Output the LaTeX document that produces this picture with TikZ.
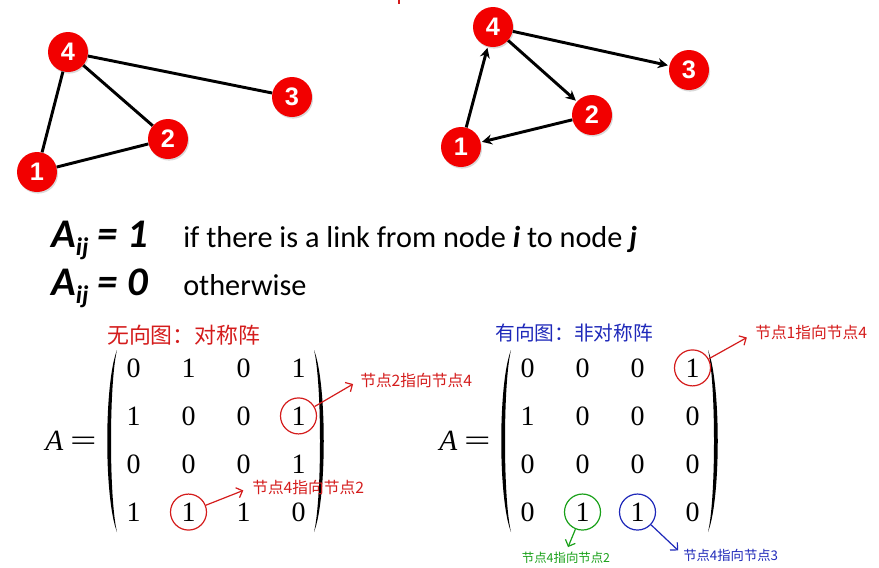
\documentclass[tikz,border=0pt]{standalone}
\usepackage{fontspec}
\setmainfont{Carlito}
\newfontfamily\numfont{Liberation Sans}
\newfontfamily\matfont{Liberation Serif}
\newfontfamily\cjk{Noto Sans CJK SC}
\usetikzlibrary{arrows.meta,matrix,shadows}
\definecolor{nodered}{RGB}{242,0,0}
\definecolor{penred}{RGB}{212,28,28}
\definecolor{penblue}{RGB}{30,40,185}
\definecolor{pengreen}{RGB}{25,160,25}
\tikzset{
    vertex/.style={circle, fill=nodered, minimum size=30pt, inner sep=0pt, text=white,
        font=\numfont\bfseries\fontsize{19}{19}\selectfont,
        drop shadow={opacity=0.3, shadow xshift=0.8pt, shadow yshift=-1.2pt}},
    edge/.style={draw, line width=2.2pt},
    diedge/.style={draw, line width=2.2pt, -{Stealth[length=7.5pt,width=7.5pt]}, shorten >=1pt},
    adjmat/.style={matrix of nodes, inner sep=0pt,
        nodes={minimum width=30pt, minimum height=21pt, inner sep=0pt,
            font=\matfont\fontsize{21}{21}\selectfont},
        column sep=11.25pt, row sep=15pt},
    lpar/.pic={\fill (10,-91) .. controls (-3,-58) and (-3,58) .. (10,91)
        .. controls (2,58) and (2,-58) .. (10,-91) -- cycle;},
    rpar/.pic={\fill (-10,-91) .. controls (3,-58) and (3,58) .. (-10,91)
        .. controls (-2,58) and (-2,-58) .. (-10,-91) -- cycle;},
    ring/.style={circle, draw, line width=0.9pt, minimum size=27pt, inner sep=0pt},
    note/.style={draw, line width=0.9pt, -{Straight Barb[length=4pt]}},
    notetext/.style={font=\cjk\fontsize{11.8}{11.8}\selectfont, inner sep=0pt},
    title/.style={inner sep=0pt, anchor=west}
}

\begin{document}
\begin{tikzpicture}[x=0.75pt, y=-0.75pt]
    \useasboundingbox (0,0) rectangle (879,568);
    \draw[penred, line width=1pt] (399,0) -- (399,4);

    % Nodes (undirected)
    \node[vertex] (u4) at (68,52) {4};
    \node[vertex] (u3) at (292,97) {3};
    \node[vertex] (u2) at (168,139) {2};
    \node[vertex] (u1) at (37,172) {1};

    % edges (undirected)
    \draw[edge] (u4) -- (u1);
    \draw[edge] (u4) -- (u2);
    \draw[edge] (u4) -- (u3);
    \draw[edge] (u1) -- (u2);

    % Nodes (directed)
    \node[vertex] (d4) at (493,27) {4};
    \node[vertex] (d3) at (689,70) {3};
    \node[vertex] (d2) at (592,115) {2};
    \node[vertex] (d1) at (461,147) {1};

    % edges (directed)
    \draw[diedge] (d1) -- (d4);
    \draw[diedge] (d4) -- (d2);
    \draw[diedge] (d4) -- (d3);
    \draw[diedge] (d2) -- (d1);

    % definition
    \node[anchor=base west, inner sep=0pt, font=\bfseries\itshape\fontsize{30.5}{30.5}\selectfont] (def1) at (51,247)
        {A\raisebox{-0.22em}{\fontsize{19}{19}\selectfont ij} = 1};
    \node[anchor=base west, inner sep=0pt, font=\fontsize{22.7}{22.7}\selectfont] (txt1) at (183,247)
        {if there is a link from node \textbf{\textit{i}} to node \textbf{\textit{j}}};
    \node[anchor=base west, inner sep=0pt, font=\bfseries\itshape\fontsize{30.5}{30.5}\selectfont] (def0) at (51,295)
        {A\raisebox{-0.22em}{\fontsize{19}{19}\selectfont ij} = 0};
    \node[anchor=base west, inner sep=0pt, font=\fontsize{22.7}{22.7}\selectfont] (txt0) at (183,295)
        {otherwise};

    % undirected matrix
    \node[title, text=penred, font=\cjk\fontsize{16.4}{16.4}\selectfont] (tU) at (107,335) {无向图：对称阵};
    \node[font=\matfont\fontsize{22}{22}\selectfont, inner sep=0pt] (eqU) at (71,441)
        {\textit{A}\kern5pt\scalebox{1.6}[1]{=}};
    \matrix (mU) [adjmat] at (216,440) {
        0 & 1 & 0 & 1 \\
        1 & 0 & 0 & 1 \\
        0 & 0 & 0 & 1 \\
        1 & 1 & 1 & 0 \\
    };
    \pic at (107,441) {lpar};
    \pic at (324,441) {rpar};
    \node[ring, draw=penred] (rU1) at (mU-2-4) {};
    \node[ring, draw=penred] (rU2) at (mU-4-2) {};
    \node[notetext, text=penred, anchor=west] (lU1) at (360,380) {节点2指向节点4};
    \node[notetext, text=penred, anchor=west] (lU2) at (252,487) {节点4指向节点2};
    \draw[note, penred, shorten >=6pt] (rU1) -- (lU1.west);
    \draw[note, penred, shorten >=7pt] (rU2) -- (lU2.west);

    % directed matrix
    \node[title, text=penblue, font=\cjk\fontsize{14.8}{14.8}\selectfont] (tD) at (495,333) {有向图：非对称阵};
    \node[font=\matfont\fontsize{22}{22}\selectfont, inner sep=0pt] (eqD) at (465,441)
        {\textit{A}\kern5pt\scalebox{1.6}[1]{=}};
    \matrix (mD) [adjmat] at (610,440) {
        0 & 0 & 0 & 1 \\
        1 & 0 & 0 & 0 \\
        0 & 0 & 0 & 0 \\
        0 & 1 & 1 & 0 \\
    };
    \pic at (501,441) {lpar};
    \pic at (718,441) {rpar};
    \node[ring, draw=penred] (rD1) at (mD-1-4) {};
    \node[ring, draw=pengreen] (rD2) at (mD-4-2) {};
    \node[ring, draw=penblue] (rD3) at (mD-4-3) {};
    \node[notetext, text=penred, anchor=west] (lD1) at (755,333) {节点1指向节点4};
    \node[notetext, text=pengreen, font=\cjk\fontsize{9.3}{9.3}\selectfont] (lD2) at (566,558) {节点4指向节点2};
    \node[notetext, text=penblue, anchor=west, font=\cjk\fontsize{10}{10}\selectfont] (lD3) at (683,555) {节点4指向节点3};
    \draw[note, penred, shorten >=7pt] (rD1) -- (lD1.west);
    \draw[note, pengreen, shorten >=4pt] (rD2) -- (lD2.north);
    \draw[note, penblue, shorten >=5pt] (rD3) -- (lD3.west);
\end{tikzpicture}
\end{document}
